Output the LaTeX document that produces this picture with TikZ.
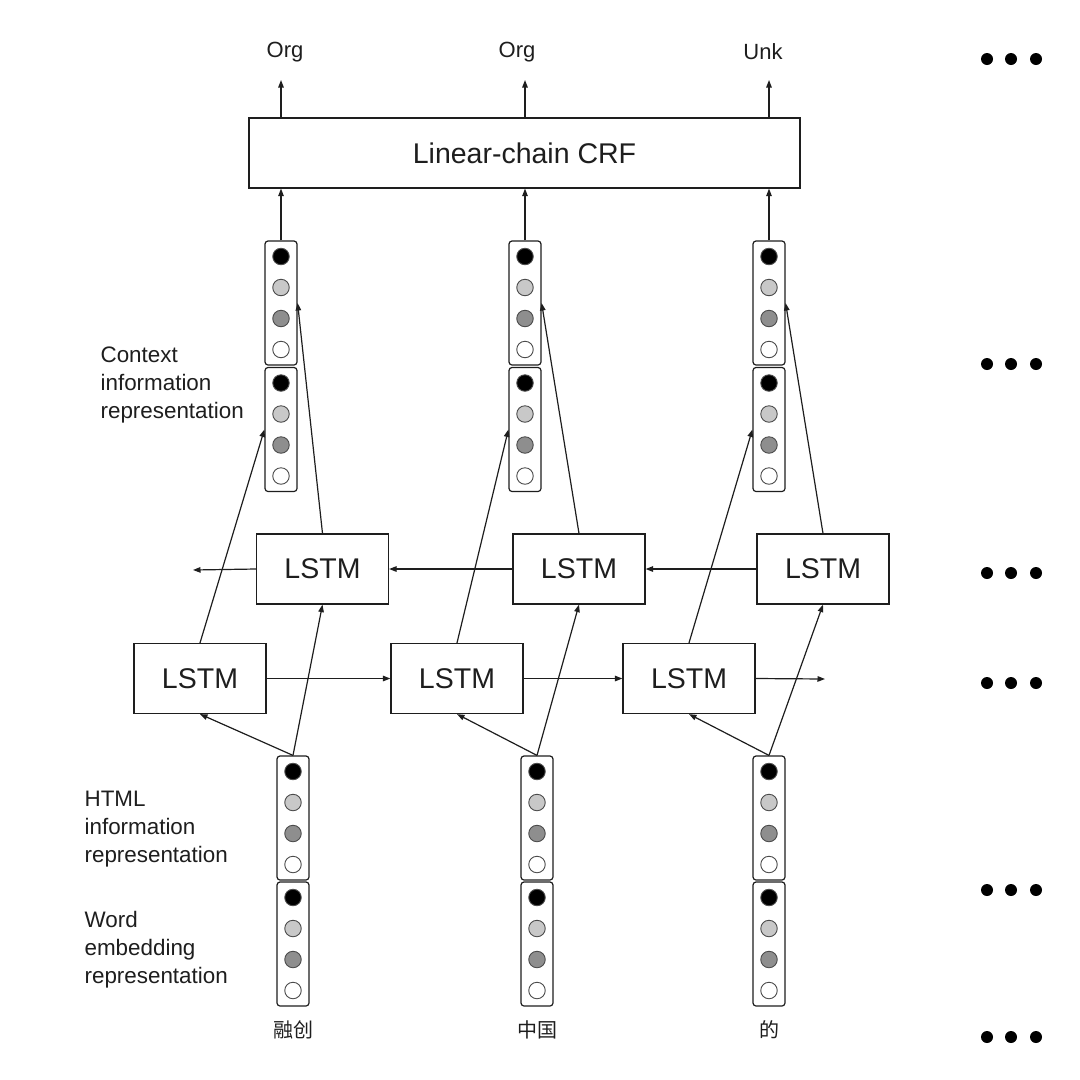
\documentclass[tikz,border=0pt]{standalone}
\usepackage{fontspec}
\setmainfont{Liberation Sans}
\newfontfamily\cjk{Noto Sans CJK SC}
\usetikzlibrary{arrows.meta}
\definecolor{ink}{HTML}{1E1E1E}
\definecolor{lgray}{HTML}{C8C8C8}
\definecolor{mgray}{HTML}{8E8E8E}
\newcommand\vecstack[4]{%
  \node[vbox] (#1u) at (#2,#3) {};
  \node[vbox] (#1l) at (#2,#4) {};
  \foreach \p/\yy in {u/#3,l/#4}{
    \node[cir,fill=black] (#1\p-a) at (#2,\yy-46.5) {};
    \node[cir,fill=lgray] (#1\p-b) at (#2,\yy-15.5) {};
    \node[cir,fill=mgray] (#1\p-c) at (#2,\yy+15.5) {};
    \node[cir,fill=white] (#1\p-d) at (#2,\yy+46.5) {};
  }%
}
\begin{document}
\begin{tikzpicture}[x=1pt,y=-1pt,line width=1.2pt,color=ink,
  box/.style={draw=ink, minimum width=132pt, minimum height=70pt, inner sep=0pt, text=ink, font=\fontsize{28.5}{30}\selectfont},
  vbox/.style={draw=ink, rounded corners=3pt, minimum width=32pt, minimum height=124pt, inner sep=0pt},
  cir/.style={circle, draw=black!70, line width=0.9pt, minimum size=16.5pt, inner sep=0pt},
  arr/.style={draw=ink,-{Triangle[length=7.5pt,width=5.5pt]}},
  lbl/.style={text=ink,inner sep=0pt,font=\fontsize{22}{24}\selectfont},
  word/.style={text=ink,inner sep=0pt,font=\cjk\fontsize{20}{24}\selectfont},
  side/.style={align=left, anchor=west, inner sep=0pt, text=ink, font=\fontsize{22.4}{28}\selectfont},
]
\fill[white] (0,0) rectangle (1080,1080);
\useasboundingbox (0,0) rectangle (1080,1080);

% CRF
\node[draw=ink, minimum width=551pt, minimum height=70pt, inner sep=0pt, text=ink, font=\fontsize{28.5}{30}\selectfont] (crf) at (524.5,153) {Linear-chain CRF};

% output labels
\node[lbl] (o1) at (285,52) {Org};
\node[lbl] (o2) at (517,52) {Org};
\node[lbl] (o3) at (763,52) {Unk};
\coordinate (t1) at (281,80);
\coordinate (t2) at (525,80);
\coordinate (t3) at (769,80);

% context vectors
\vecstack{c1}{281}{303}{429.5}
\vecstack{c2}{525}{303}{429.5}
\vecstack{c3}{769}{303}{429.5}

% input vectors
\vecstack{h1}{293}{818}{944}
\vecstack{h2}{537}{818}{944}
\vecstack{h3}{769}{818}{944}

% words
\node[word] (w1) at (293,1030) {融创};
\node[word] (w2) at (537,1030) {中国};
\node[word] (w3) at (769,1030) {的};

% LSTMs
\node[box] (b1) at (322.5,569) {LSTM};
\node[box] (b2) at (579,569) {LSTM};
\node[box] (b3) at (823,569) {LSTM};
\node[box] (f1) at (200,678.5) {LSTM};
\node[box] (f2) at (457,678.5) {LSTM};
\node[box] (f3) at (689,678.5) {LSTM};
\coordinate (bl) at (193,570);
\coordinate (fr) at (825,679);

% side labels
\node[side] (lc) at (100,385) {Context\\information\\representation};
\node[side] (lh) at (84,829) {HTML\\information\\representation};
\node[side] (lw) at (84,950) {Word\\embedding\\representation};

% horizontal recurrences
\draw[arr] (b1.west) -- (bl);
\draw[arr] (b2.west) -- (b1.east);
\draw[arr] (b3.west) -- (b2.east);
\draw[arr] (f1.east) -- (f2.west);
\draw[arr] (f2.east) -- (f3.west);
\draw[arr] (f3.east) -- (fr);

% inputs to LSTMs and LSTMs to context
\foreach \i in {1,2,3}{
  \draw[arr] (h\i u.north) -- (f\i.south);
  \draw[arr] (h\i u.north) -- (b\i.south);
  \draw[arr] (f\i.north) -- (c\i l.west);
  \draw[arr] (b\i.north) -- (c\i u.east);
  \draw[arr] (c\i u.north) -- (c\i u.north |- crf.south);
  \draw[arr] (c\i u.north |- crf.north) -- (t\i);
}

% ellipses
\foreach \yy in {59,364,573,683,890,1037}
  \foreach \xx in {987,1011,1036}
    \fill[black] (\xx,\yy) circle (6pt);
\end{tikzpicture}
\end{document}
